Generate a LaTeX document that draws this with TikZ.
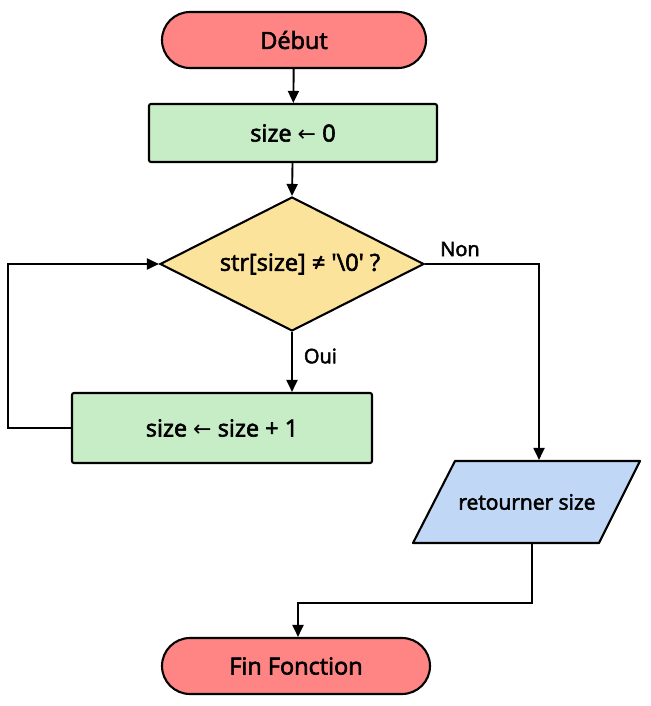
\documentclass[tikz,border=0pt]{standalone}
\usepackage{fontspec}
\setmainfont{Open Sans}[FakeBold=2.6]
\newfontfamily\arrowfont{DejaVu Sans}
\usetikzlibrary{arrows.meta,shapes.geometric,calc}
\definecolor{termc}{HTML}{FF8484}
\definecolor{procc}{HTML}{C6EDC6}
\definecolor{decc}{HTML}{FCE39C}
\definecolor{ioc}{HTML}{C0D8F6}
\newcommand{\larr}{{\arrowfont\fontsize{22}{24}\selectfont ←}}
\begin{document}
\begin{tikzpicture}[x=1pt,y=-1pt,
  base/.style={draw=black, line width=2.1pt, font=\fontsize{23.5}{28}\selectfont, inner sep=0pt},
  term/.style={base, fill=termc, rounded corners=28pt},
  proc/.style={base, fill=procc, rounded corners=2pt},
  dec/.style={base, fill=decc, diamond, aspect=1.97},
  lbl/.style={font=\fontsize{20}{23}\selectfont, inner sep=0pt},
  conn/.style={line width=1.9pt, -{Triangle[length=12pt,width=11pt]}}]
\useasboundingbox (0,0) rectangle (650,706);
\node[term, minimum width=264pt, minimum height=56pt] (start) at (294,40) {Début};
\node[proc, minimum width=288pt, minimum height=58pt] (init) at (293,133) {size \larr{} 0};
\node[dec, minimum width=264pt, minimum height=134pt] (test) at (292,264) {};
\node[base, draw=none] at (300,264) {str[size] ≠ \textquotesingle\textbackslash 0\textquotesingle{} ?};
\node[proc, minimum width=300pt, minimum height=70pt] (inc) at (222,428) {size \larr{} size + 1};
\draw[base, fill=ioc, line join=round] (455,461) -- (640,461) -- (599,543) -- (413,543) -- cycle;
\node[base, draw=none, minimum width=186pt, minimum height=82pt, font=\fontsize{21}{24}\selectfont] (ret) at (527,502) {retourner size};
\node[term, minimum width=268pt, minimum height=56pt] (end) at (296,666) {Fin Fonction};
\coordinate (nonc) at (539,264);
\coordinate (loopl) at (8,428);
\coordinate (bend) at (532,603);
\draw[conn] (start) -- (init);
\draw[conn] (init) -- (test.north);
\draw[conn] (test.south) -- node[lbl, right=11pt, pos=0.4] {Oui} (inc.north -| test.south);
\draw[conn] (test.east) -- (test.east -| nonc) -- (ret.north -| nonc);
\node[lbl] at (460,249) {Non};
\draw[conn] (inc.west) -- (loopl) |- (test.west);
\draw[conn] (ret.south -| bend) -- (bend) -| ([xshift=2pt]end.north);
\end{tikzpicture}
\end{document}
